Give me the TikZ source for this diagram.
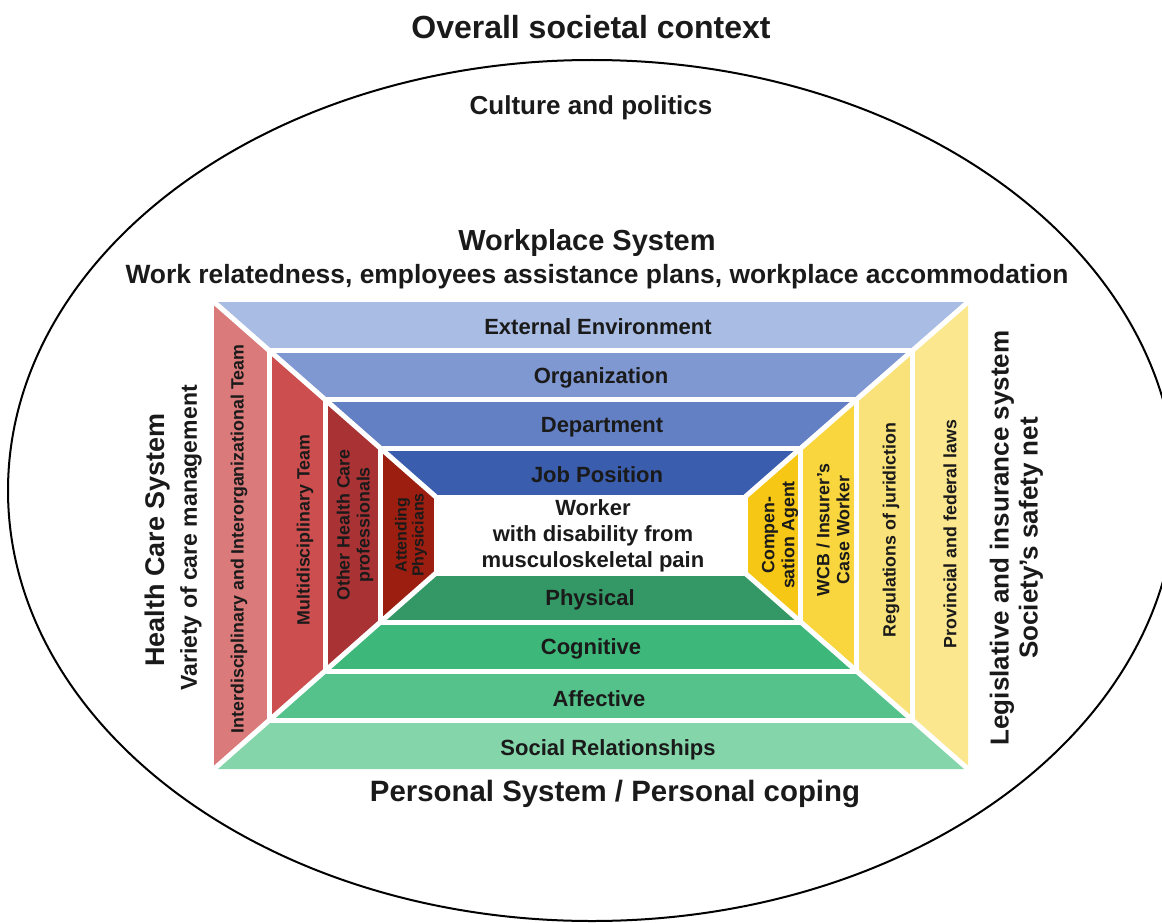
\documentclass[tikz,border=0pt]{standalone}
\usepackage{fontspec}
\setmainfont{Liberation Sans}
\definecolor{txt}{HTML}{1A1A1A}
\definecolor{cExt}{HTML}{A9BCE4}
\definecolor{cOrg}{HTML}{7F98D1}
\definecolor{cDep}{HTML}{6380C4}
\definecolor{cJob}{HTML}{3A5DAE}
\definecolor{cPhy}{HTML}{339865}
\definecolor{cCog}{HTML}{3DB87A}
\definecolor{cAff}{HTML}{55C28B}
\definecolor{cSoc}{HTML}{84D6AA}
\definecolor{cIdt}{HTML}{DA7A7A}
\definecolor{cMdt}{HTML}{CD4E4E}
\definecolor{cOhc}{HTML}{A93234}
\definecolor{cAph}{HTML}{9B1E10}
\definecolor{cCag}{HTML}{F7C716}
\definecolor{cWcb}{HTML}{F9D63E}
\definecolor{cReg}{HTML}{FAE27A}
\definecolor{cPfl}{HTML}{FBE78E}
\newcommand\fsz[2]{\fontsize{#1}{#2}\selectfont\bfseries}
\begin{document}
\begin{tikzpicture}[x=1pt,y=-1pt,
  lbl/.style={font=\fsz{22}{26}, text=txt, inner sep=0pt, anchor=base, align=center},
  biglbl/.style={text=txt, inner sep=0pt, anchor=base},
  sidelbl/.style={text=txt, inner sep=0pt, rotate=90},
  vlbl/.style={font=\fsz{17.8}{20}, text=txt, inner sep=0pt, rotate=90, align=center},
  gap/.style={draw=white, line width=5pt}]
\useasboundingbox (0,0) rectangle (1162,923);
% outer ellipse
\draw[line width=2pt, black] (592,490.5) ellipse [x radius=584, y radius=430.5];
% frame corners
\coordinate (tl0) at (214,302);    \coordinate (tr0) at (968,302);
\coordinate (br0) at (968,769);    \coordinate (bl0) at (214,769);
\coordinate (tl1) at (269.5,350.75); \coordinate (tr1) at (912.25,350.75);
\coordinate (br1) at (912.25,720);   \coordinate (bl1) at (269.5,720);
\coordinate (tl2) at (325,399.5);    \coordinate (tr2) at (856.5,399.5);
\coordinate (br2) at (856.5,671);    \coordinate (bl2) at (325,671);
\coordinate (tl3) at (380.5,448.25); \coordinate (tr3) at (800.75,448.25);
\coordinate (br3) at (800.75,622);   \coordinate (bl3) at (380.5,622);
\coordinate (tl4) at (436,497);      \coordinate (tr4) at (745,497);
\coordinate (br4) at (745,573);      \coordinate (bl4) at (436,573);
% top bands
\fill[cExt] (tl0) -- (tr0) -- (tr1) -- (tl1) -- cycle;
\fill[cOrg] (tl1) -- (tr1) -- (tr2) -- (tl2) -- cycle;
\fill[cDep] (tl2) -- (tr2) -- (tr3) -- (tl3) -- cycle;
\fill[cJob] (tl3) -- (tr3) -- (tr4) -- (tl4) -- cycle;
% bottom bands
\fill[cSoc] (bl0) -- (br0) -- (br1) -- (bl1) -- cycle;
\fill[cAff] (bl1) -- (br1) -- (br2) -- (bl2) -- cycle;
\fill[cCog] (bl2) -- (br2) -- (br3) -- (bl3) -- cycle;
\fill[cPhy] (bl3) -- (br3) -- (br4) -- (bl4) -- cycle;
% left bands
\fill[cIdt] (tl0) -- (tl1) -- (bl1) -- (bl0) -- cycle;
\fill[cMdt] (tl1) -- (tl2) -- (bl2) -- (bl1) -- cycle;
\fill[cOhc] (tl2) -- (tl3) -- (bl3) -- (bl2) -- cycle;
\fill[cAph] (tl3) -- (tl4) -- (bl4) -- (bl3) -- cycle;
% right bands
\fill[cPfl] (tr0) -- (tr1) -- (br1) -- (br0) -- cycle;
\fill[cReg] (tr1) -- (tr2) -- (br2) -- (br1) -- cycle;
\fill[cWcb] (tr2) -- (tr3) -- (br3) -- (br2) -- cycle;
\fill[cCag] (tr3) -- (tr4) -- (br4) -- (br3) -- cycle;
% white gaps
\draw[gap] (tl1) rectangle (br1);
\draw[gap] (tl2) rectangle (br2);
\draw[gap] (tl3) rectangle (br3);
\draw[gap] (tl4) rectangle (br4);
\draw[gap] (tl0) -- (tl4);
\draw[gap] (tr0) -- (tr4);
\draw[gap] (br0) -- (br4);
\draw[gap] (bl0) -- (bl4);
% headings
\node[biglbl, font=\fsz{32}{38}] (title) at (591,39) {Overall societal context};
\node[biglbl, font=\fsz{26}{30}] (culture) at (591,115) {Culture and politics};
\node[biglbl, font=\fsz{29}{34}] (wps) at (587,250) {Workplace System};
\node[biglbl, font=\fsz{26.4}{30}] (wpsub) at (597,283) {Work relatedness, employees assistance plans, workplace accommodation};
\node[biglbl, font=\fsz{29.4}{34}] (pers) at (615,801) {Personal System / Personal coping};
\node[sidelbl, font=\fsz{27}{32}] (hcs) at (158,540) {Health Care System};
\node[sidelbl, font=\fsz{23}{28}] (vcm) at (191,538) {Variety of care management};
\node[sidelbl, font=\fsz{26}{30}] (lis) at (1002,538) {Legislative and insurance system};
\node[sidelbl, font=\fsz{26}{30}] (ssn) at (1031,538) {Society’s safety net};
% band labels
\node[lbl] (ext) at (598,334) {External Environment};
\node[lbl] (org) at (601,383) {Organization};
\node[lbl] (dep) at (602,432) {Department};
\node[lbl] (job) at (597,482) {Job Position};
\node[lbl] (wrk) at (593,567) {Worker\\with disability from\\musculoskeletal pain};
\node[lbl] (phy) at (590,605) {Physical};
\node[lbl] (cog) at (591,654) {Cognitive};
\node[lbl] (aff) at (599,706) {Affective};
\node[lbl] (soc) at (608,755) {Social Relationships};
% side band labels
\node[vlbl] (idt) at (239,539) {Interdisciplinary and Interorganizational Team};
\node[vlbl] (mdt) at (305,530) {Multidisciplinary Team};
\node[vlbl] (ohc) at (355,525) {Other Health Care\\professionals};
\node[vlbl, font=\fsz{16}{17}] (aph) at (411,535) {Attending\\Physicians};
\node[vlbl] (cag) at (780,535) {Compen-\\sation Agent};
\node[vlbl] (wcb) at (833,530) {WCB / Insurer’s\\Case Worker};
\node[vlbl] (reg) at (891,530) {Regulations of juridiction};
\node[vlbl] (pfl) at (950,534) {Provincial and federal laws};
\end{tikzpicture}
\end{document}
